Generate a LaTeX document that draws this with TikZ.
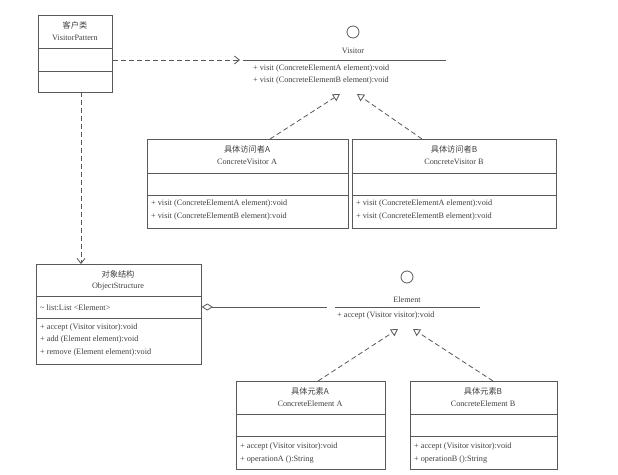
\documentclass[tikz,border=0pt]{standalone}
\usepackage{fontspec}
\setmainfont{Liberation Serif}
\newfontfamily\cjk{Noto Sans CJK SC}
\usetikzlibrary{arrows.meta}
\begin{document}
\begin{tikzpicture}[x=1pt,y=-1pt,
  ln/.style={draw=black!65,line width=0.8pt},
  txt/.style={font=\fontsize{8.2}{9}\selectfont,text=black!75,inner sep=0pt},
  dep/.style={ln,dash pattern=on 5pt off 3pt,-{Straight Barb[length=5pt,width=8pt]}},
  real/.style={ln,dash pattern=on 5pt off 3pt,-{Triangle[open,length=7pt,width=8pt,fill=white]}},
  cls/.style={ln,fill=white,inner sep=0pt,anchor=north west}]
\useasboundingbox[fill=white] (0,0) rectangle (618,474);
% VisitorPattern
\node[cls,minimum width=74pt,minimum height=77pt] (vp) at (38,15) {};
\draw[ln] (38,48) -- (112,48) (38,71) -- (112,71);
\node[txt] at (75,25) {\cjk 客户类};
\node[txt] at (75,38) {VisitorPattern};
% Visitor interface
\node[ln,circle,minimum size=12pt,inner sep=0pt] (vc) at (353,32) {};
\node[txt] (vn) at (353,51) {Visitor};
\coordinate (vl) at (243,60); \coordinate (vr) at (446,60);
\draw[ln] (vl) -- (vr);
\node[txt,anchor=west] at (253,69) {+ visit (ConcreteElementA element):void};
\node[txt,anchor=west] at (253,81) {+ visit (ConcreteElementB element):void};
\coordinate (vlt) at (240,60);
\coordinate (vtA) at (340,94); \coordinate (vtB) at (357,94);
% ConcreteVisitor A
\node[cls,minimum width=201pt,minimum height=89pt] (cva) at (147,139) {};
\draw[ln] (147,173) -- (348,173) (147,195) -- (348,195);
\node[txt] at (247,149) {\cjk 具体访问者A};
\node[txt] at (247,162) {ConcreteVisitor A};
\node[txt,anchor=west] at (151,204) {+ visit (ConcreteElementA element):void};
\node[txt,anchor=west] at (151,217) {+ visit (ConcreteElementB element):void};
% ConcreteVisitor B
\node[cls,minimum width=204pt,minimum height=89pt] (cvb) at (352,139) {};
\draw[ln] (352,173) -- (556,173) (352,195) -- (556,195);
\node[txt] at (454,149) {\cjk 具体访问者B};
\node[txt] at (454,162) {ConcreteVisitor B};
\node[txt,anchor=west] at (356,204) {+ visit (ConcreteElementA element):void};
\node[txt,anchor=west] at (356,217) {+ visit (ConcreteElementB element):void};
% ObjectStructure
\node[cls,minimum width=165pt,minimum height=100pt] (os) at (36,264) {};
\draw[ln] (36,296) -- (201,296) (36,318) -- (201,318);
\node[txt] at (118,274) {\cjk 对象结构};
\node[txt] at (118,287) {ObjectStructure};
\node[txt,anchor=west] at (40,308) {\textasciitilde{} list:List <Element>};
\node[txt,anchor=west] at (40,328) {+ accept (Visitor visitor):void};
\node[txt,anchor=west] at (40,340) {+ add (Element element):void};
\node[txt,anchor=west] at (40,353) {+ remove (Element element):void};
% Element interface
\node[ln,circle,minimum size=12pt,inner sep=0pt] (ec) at (407,277) {};
\node[txt] (en) at (407,300) {Element};
\coordinate (el) at (335,307); \coordinate (er) at (480,307);
\draw[ln] (el) -- (er);
\node[txt,anchor=west] at (337,316) {+ accept (Visitor visitor):void};
\coordinate (etA) at (398,329); \coordinate (etB) at (413,329);
\coordinate (agg) at (327,307);
% ConcreteElement A
\node[cls,minimum width=149pt,minimum height=88pt] (cea) at (236,381) {};
\draw[ln] (236,414) -- (385,414) (236,436) -- (385,436);
\node[txt] at (310,391) {\cjk 具体元素A};
\node[txt] at (310,404) {ConcreteElement A};
\node[txt,anchor=west] at (240,447) {+ accept (Visitor visitor):void};
\node[txt,anchor=west] at (240,460) {+ operationA ():String};
% ConcreteElement B
\node[cls,minimum width=147pt,minimum height=88pt] (ceb) at (410,381) {};
\draw[ln] (410,414) -- (557,414) (410,436) -- (557,436);
\node[txt] at (483,391) {\cjk 具体元素B};
\node[txt] at (483,404) {ConcreteElement B};
\node[txt,anchor=west] at (414,447) {+ accept (Visitor visitor):void};
\node[txt,anchor=west] at (414,460) {+ operationB ():String};
% connectors
\draw[dep] (vp.east |- 0,60) -- (vlt);
\draw[dep] (81,92) -- (os.north -| 81,0);
\draw[real] (cva.north -| 270,0) -- (vtA);
\draw[real] (cvb.north -| 422,0) -- (vtB);
\draw[real] (cea.north -| 318,0) -- (etA);
\draw[real] (ceb.north -| 493,0) -- (etB);
\draw[ln,{Diamond[open,length=11pt,width=7pt]}-] (os.east |- 0,307) -- (agg);
\end{tikzpicture}
\end{document}
